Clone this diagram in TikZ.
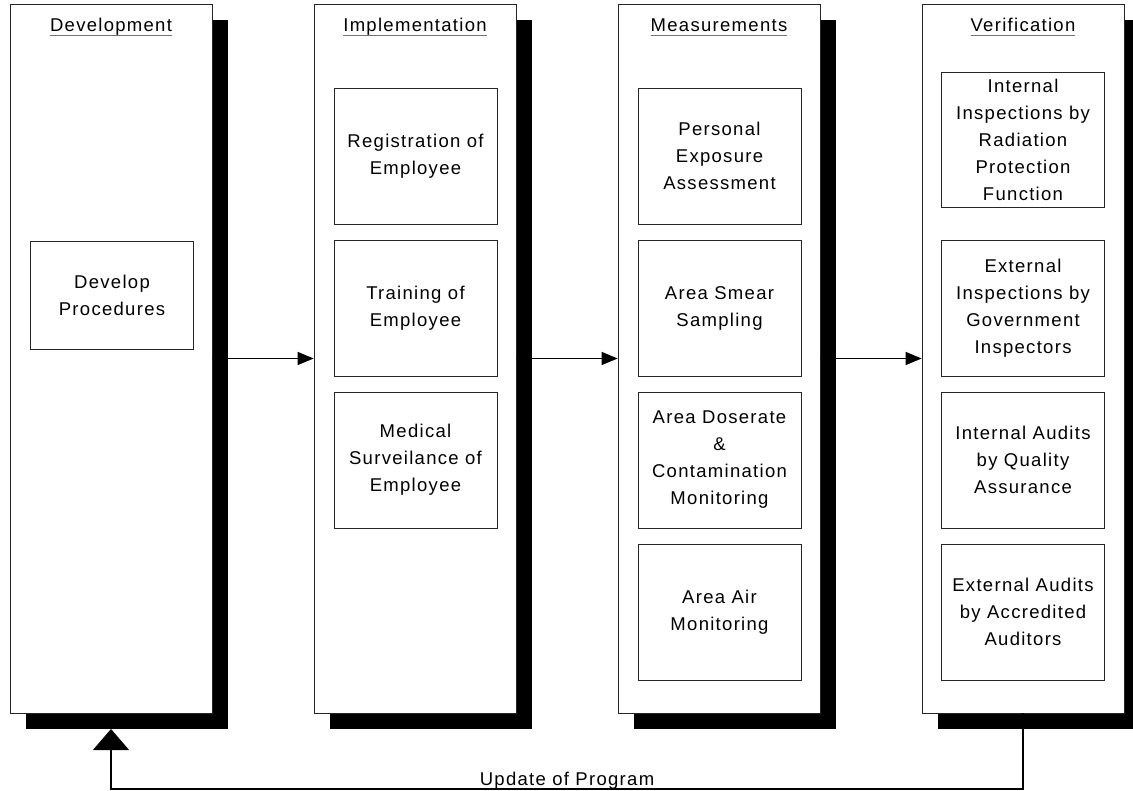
\documentclass[tikz,border=0pt]{standalone}
\usepackage{fontspec}
\setmainfont{Liberation Sans}[LetterSpace=7]
\usetikzlibrary{arrows.meta,shadows,calc}

% underlined column title
\newcommand\phasetitle[1]{\setbox0\hbox{#1}\rlap{\color{black!55}\rule[-4.5pt]{\wd0}{1.3pt}}\box0}

\begin{document}
\begin{tikzpicture}[x=1pt,y=-1pt,
  phase/.style={draw=black!85, fill=white, line width=0.8pt, minimum width=202pt, minimum height=709pt,
    general shadow={fill=black, shadow xshift=16pt, shadow yshift=-16pt}},
  task/.style={draw=black!85, fill=white, line width=0.8pt, minimum width=163pt, minimum height=136pt,
    align=center, font=\fontsize{18.5}{27}\selectfont},
  head/.style={anchor=base, font=\fontsize{18.5}{23}\selectfont},
  flow/.style={line width=1.4pt, -{Triangle[length=16pt,width=13pt]}}]
\useasboundingbox (0,0) rectangle (1133,791);

% Phases
\node[phase] (dev)  at (111,358.5) {};
\node[phase] (impl) at (415,358.5) {};
\node[phase] (meas) at (719,358.5) {};
\node[phase] (ver)  at (1023,358.5) {};

\node[head] (hdev)  at (111,32) {\phasetitle{Development}};
\node[head] (himpl) at (415,32) {\phasetitle{Implementation}};
\node[head] (hmeas) at (719,32) {\phasetitle{Measurements}};
\node[head] (hver)  at (1023,32) {\phasetitle{Verification}};

% Development
\node[task, minimum height=108pt] (proc) at (112,295) {Develop\\Procedures};

% Implementation
\node[task] (reg)  at (415.5,156) {Registration of\\Employee};
\node[task] (train) at (415.5,308) {Training of\\Employee};
\node[task] (med)  at (415.5,460) {Medical\\Surveilance of\\Employee};

% Measurements
\node[task] (pers)  at (719.5,156) {Personal\\Exposure\\Assessment};
\node[task] (smear) at (719.5,308) {Area Smear\\Sampling};
\node[task] (dose)  at (719.5,460) {Area Doserate\\\&\\Contamination\\Monitoring};
\node[task] (air)   at (719.5,612) {Area Air\\Monitoring};

% Verification
\node[task, minimum height=135pt] (intinsp) at (1023,139.5) {Internal\\Inspections by\\Radiation\\Protection\\Function};
\node[task] (extinsp) at (1023,308) {External\\Inspections by\\Government\\Inspectors};
\node[task] (intaud)  at (1023,460) {Internal Audits\\by Quality\\Assurance};
\node[task] (extaud)  at (1023,612) {External Audits\\by Accredited\\Auditors};

% Arrows
\draw[flow] (dev) -- (impl);
\draw[flow] (impl) -- (meas);
\draw[flow] (meas) -- (ver);

% Feedback
\coordinate (fbR) at (1023,789);
\coordinate (fbL) at (111,789);
\coordinate (fbT) at (111,729);
\draw[line width=1.2pt, -{Triangle[length=21pt,width=36pt]}] (ver.south) -- (fbR) -- (fbL) -- (fbT);
\node[head] (upd) at ($(fbL)!0.5!(fbR)+(0,-4)$) {Update of Program};
\end{tikzpicture}
\end{document}
